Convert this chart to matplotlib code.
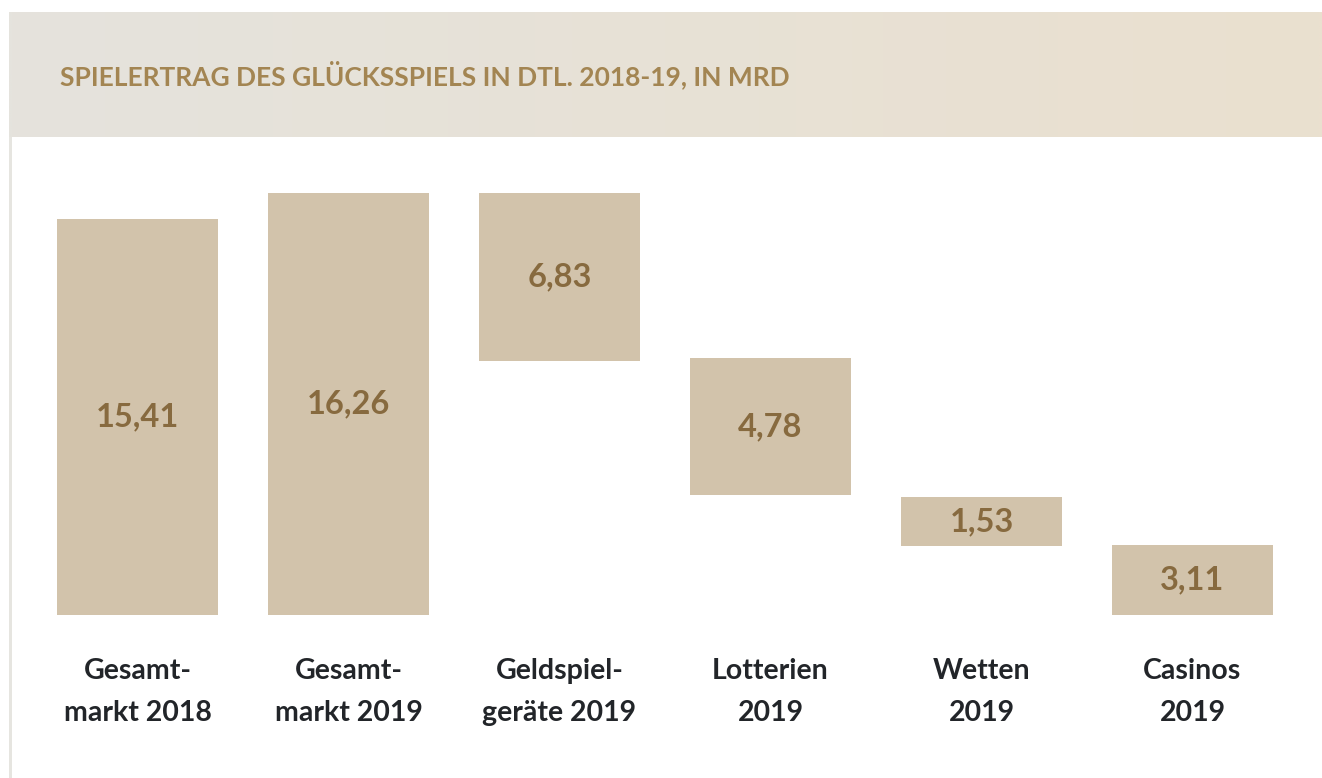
import matplotlib
matplotlib.use("Agg")
import matplotlib.pyplot as plt
import numpy as np

# ---- data ----
categories = ["Gesamt-\nmarkt 2018", "Gesamt-\nmarkt 2019", "Geldspiel-\ngeräte 2019",
              "Lotterien\n2019", "Wetten\n2019", "Casinos\n2019"]
values = [15.41, 16.26, 6.83, 4.78, 1.53, 3.11]
value_labels = ["15,41", "16,26", "6,83", "4,78", "1,53", "3,11"]
# bar spans (Mrd) as drawn in the picture
bar_bottom = [0.0, 0.0, 9.79, 4.62, 2.66, 0.0]
bar_top = [15.26, 16.26, 16.26, 9.90, 4.55, 2.70]
title = "SPIELERTRAG DES GLÜCKSSPIELS IN DTL. 2018-19, IN MRD"

W, H = 1322, 778
fig = plt.figure(figsize=(W / 100, H / 100), dpi=100)
fig.patch.set_facecolor("white")

# background / frame
bg = fig.add_axes([0, 0, 1, 1])
bg.set_xlim(0, W)
bg.set_ylim(H, 0)
bg.axis("off")
c0 = np.array([229, 227, 221]) / 255
c1 = np.array([234, 224, 207]) / 255
t = np.linspace(0, 1, 256)
grad = (c0[None, :] * (1 - t[:, None]) + c1[None, :] * t[:, None])[None, :, :]
bg.imshow(grad, extent=(9, W, 136.5, 12), aspect="auto", interpolation="bilinear", zorder=1)
bg.add_patch(plt.Rectangle((9, 136.5), 3, H - 136.5, color="#e6e5e0", lw=0, zorder=1))
bg.set_xlim(0, W)
bg.set_ylim(H, 0)
bg.text(60, 75, title, fontsize=19, fontweight="bold", family="Lato",
        color="#a38552", ha="left", va="center", zorder=3)

# main chart
left_px, right_px = 32, 1298
bot_px, top_px = 615, 193
ax = fig.add_axes([left_px / W, (H - bot_px) / H, (right_px - left_px) / W, (bot_px - top_px) / H])
ax.patch.set_alpha(0)
x = np.arange(len(categories))
heights = [t_ - b_ for t_, b_ in zip(bar_top, bar_bottom)]
ax.bar(x, heights, bottom=bar_bottom, width=0.763, color="#d2c3ab", linewidth=0)
for xi, b_, t_, lab in zip(x, bar_bottom, bar_top, value_labels):
    ax.text(xi, (b_ + t_) / 2, lab, ha="center", va="center", fontsize=23.5,
            fontweight="bold", family="Lato", color="#876a3f")
ax.set_xlim(-0.5, len(categories) - 0.5)
ax.set_ylim(0, 16.26)
ax.set_xticks(x)
ax.set_xticklabels(categories, fontsize=20.5, fontweight="bold", family="Lato",
                   color="#222529", linespacing=1.75)
ax.tick_params(axis="x", length=0, pad=31)
ax.set_yticks([])
for s in ax.spines.values():
    s.set_visible(False)

fig.savefig("out.png", dpi=100)
